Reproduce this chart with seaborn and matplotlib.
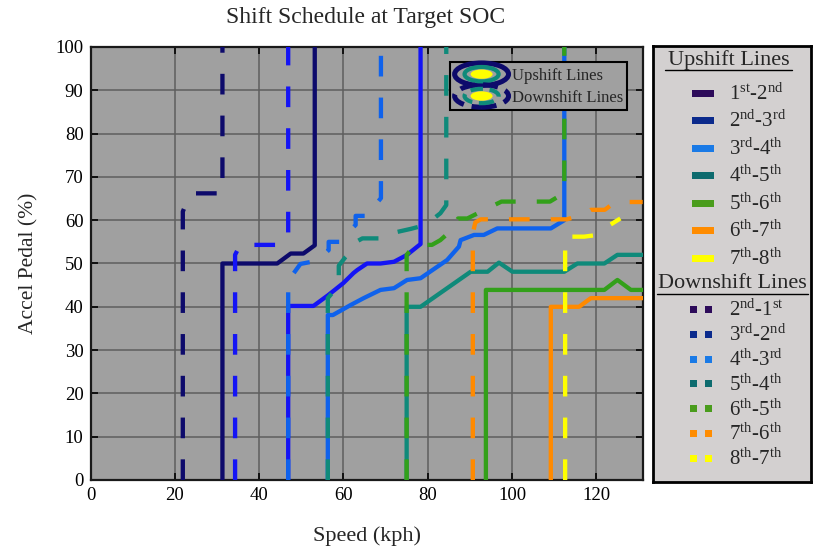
import numpy as np
import pandas as pd
import matplotlib
matplotlib.use("Agg")
import matplotlib.pyplot as plt
import seaborn as sns
from matplotlib.legend_handler import HandlerBase
from matplotlib.patches import Ellipse, Rectangle
from matplotlib.lines import Line2D

# ---------------- data (speed kph, accel pedal %) ----------------
up_12_x = [31.3, 31.3, 44.3, 47.5, 50.5, 53.2, 53.2]
up_12_y = [0, 50, 50, 52.3, 52.3, 54.2, 100]
up_23_x = [46.9, 46.9, 52.9, 56.4, 60.0, 62.4, 63.3, 65.6, 68.8, 72.0, 75.1, 78.3, 78.3]
up_23_y = [0, 40.2, 40.2, 42.7, 45.5, 47.8, 48.5, 50, 50, 50.4, 52, 54.5, 100]
up_34_x = [56.3, 56.3, 57.5, 61.7, 64.8, 68.8, 72.0, 75.1, 78.3, 84.6, 87.4, 87.8, 91.0, 93.3, 96.5, 109.2, 112.4, 112.4]
up_34_y = [0, 38.1, 38.1, 40.4, 42, 43.9, 44.3, 46.2, 46.6, 50.8, 53.9, 55.4, 56.6, 56.6, 58.1, 58.1, 60, 100]
up_45_x = [75.0, 75.0, 78.3, 90.2, 94.2, 96.9, 100.1, 112.4, 115.5, 121.9, 125.0, 131.0]
up_45_y = [0, 40, 40, 48.1, 48.1, 50.2, 48.1, 48.1, 50, 50, 52, 52]
up_56_x = [93.8, 93.8, 121.9, 125.0, 128.2, 131.0]
up_56_y = [0, 43.9, 43.9, 46.2, 43.9, 43.9]
up_67_x = [109.2, 109.2, 115.9, 118.7, 131.0]
up_67_y = [0, 40, 40, 42, 42]

dn_21_x = [21.9, 21.9, 23.2, 24.5, 31.3, 31.3]
dn_21_y = [0, 62, 65, 66.2, 66.2, 100]
dn_32_x = [34.3, 34.3, 35.5, 45.0, 46.9, 46.9]
dn_32_y = [0, 52, 54.3, 54.3, 56, 100]
dn_43_x = [46.9, 46.9, 49.8, 53.0, 54.5, 56.5, 56.5, 59.0, 60.9, 62.9, 62.9, 65.5, 67.2, 68.9, 68.9]
dn_43_y = [0, 46, 49.9, 50.5, 51.2, 53.1, 55, 55, 57, 58.9, 61, 61, 63.1, 65.1, 100]
dn_54_x = [56.3, 56.3, 58.9, 58.9, 60.5, 62.1, 63.0, 64.5, 70.4, 72.8, 76.0, 79.5, 83.0, 84.4, 84.4]
dn_54_y = [0, 42, 45, 49.5, 51.5, 53.2, 55, 55.8, 55.8, 57.3, 58, 58.9, 61.6, 63.5, 100]
dn_65_x = [75.0, 75.0, 77.0, 81.0, 83.0, 86.0, 87.2, 89.4, 93.5, 97.5, 109.0, 112.4, 112.4]
dn_65_y = [0, 52, 54.3, 54.3, 55.4, 58, 60.4, 60.4, 62.4, 64.3, 64.3, 66.3, 100]
dn_76_x = [90.7, 90.7, 91.3, 92.6, 113.0, 116.7, 118.7, 122.0, 124.5, 131.0]
dn_76_y = [0, 57, 59.5, 60.2, 60.2, 61.2, 62.4, 62.4, 64.2, 64.2]
dn_87_x = [112.6, 112.6, 117.1, 119.5, 121.9, 125.7]
dn_87_y = [0, 56.2, 56.2, 56.5, 58.1, 60.4]

up_labels = ["1$^{\\mathrm{st}}$-2$^{\\mathrm{nd}}$", "2$^{\\mathrm{nd}}$-3$^{\\mathrm{rd}}$",
             "3$^{\\mathrm{rd}}$-4$^{\\mathrm{th}}$", "4$^{\\mathrm{th}}$-5$^{\\mathrm{th}}$",
             "5$^{\\mathrm{th}}$-6$^{\\mathrm{th}}$", "6$^{\\mathrm{th}}$-7$^{\\mathrm{th}}$",
             "7$^{\\mathrm{th}}$-8$^{\\mathrm{th}}$"]
dn_labels = ["2$^{\\mathrm{nd}}$-1$^{\\mathrm{st}}$", "3$^{\\mathrm{rd}}$-2$^{\\mathrm{nd}}$",
             "4$^{\\mathrm{th}}$-3$^{\\mathrm{rd}}$", "5$^{\\mathrm{th}}$-4$^{\\mathrm{th}}$",
             "6$^{\\mathrm{th}}$-5$^{\\mathrm{th}}$", "7$^{\\mathrm{th}}$-6$^{\\mathrm{th}}$",
             "8$^{\\mathrm{th}}$-7$^{\\mathrm{th}}$"]

line_colors = ["#0d0a6b", "#1414f5", "#0f62ec", "#0f8a7a", "#33a01a", "#ff8a00", "#ffff00"]
legend_colors = ["#2d0b5a", "#0b2a8c", "#1a7ae6", "#0d6b6e", "#4a9c1c", "#ff8c00", "#ffff00"]

x_ticks = [0, 20, 40, 60, 80, 100, 120]
y_ticks = [0, 10, 20, 30, 40, 50, 60, 70, 80, 90, 100]

# ---------------- style ----------------
sns.set_style("ticks")
plt.rcParams["font.family"] = ["Liberation Serif", "DejaVu Serif"]
plt.rcParams["mathtext.fontset"] = "custom"
plt.rcParams["mathtext.rm"] = "Liberation Serif"
plt.rcParams["mathtext.it"] = "Liberation Serif:italic"
plt.rcParams["mathtext.bf"] = "Liberation Serif:bold"

W, H = 813, 553
fig = plt.figure(figsize=(W / 100, H / 100), dpi=100)
fig.patch.set_facecolor("white")
ax = fig.add_axes([90.5 / W, 1 - 480 / H, (642.7 - 90.5) / W, (480 - 47) / H])
ax.set_facecolor("#a0a0a0")

up_lines = [(up_12_x, up_12_y), (up_23_x, up_23_y), (up_34_x, up_34_y), (up_45_x, up_45_y),
            (up_56_x, up_56_y), (up_67_x, up_67_y)]
dn_lines = [(dn_21_x, dn_21_y), (dn_32_x, dn_32_y), (dn_43_x, dn_43_y), (dn_54_x, dn_54_y),
            (dn_65_x, dn_65_y), (dn_76_x, dn_76_y), (dn_87_x, dn_87_y)]

for i, (xs, ys) in enumerate(up_lines):
    df = pd.DataFrame({"speed": xs, "pedal": ys})
    sns.lineplot(data=df, x="speed", y="pedal", ax=ax, sort=False, estimator=None,
                 color=line_colors[i], lw=3.1, legend=False, zorder=3)
for i, (xs, ys) in enumerate(dn_lines):
    df = pd.DataFrame({"speed": xs, "pedal": ys})
    sns.lineplot(data=df, x="speed", y="pedal", ax=ax, sort=False, estimator=None,
                 color=line_colors[i], lw=3.1, legend=False, zorder=4,
                 linestyle=(0, (4.8, 4.9)), dash_capstyle="butt")

ax.set_xlim(0, 131)
ax.set_ylim(0, 100)
ax.set_xticks(x_ticks)
ax.set_yticks(y_ticks)
ax.grid(True, color="#5e5e5e", lw=1.1, zorder=0)
ax.set_axisbelow(True)
ax.tick_params(direction="in", length=5, width=1.2, colors="black", labelsize=13.5,
               top=True, right=True, pad=5)
for s in ax.spines.values():
    s.set_color("#1a1a1a")
    s.set_linewidth(1.6)
ax.set_xlabel("Speed (kph)", fontsize=16, labelpad=16)
ax.set_ylabel("Accel Pedal (%)", fontsize=15.5, labelpad=12)
fig.text(366 / W, 1 - 18 / H, "Shift Schedule at Target SOC", ha="center", va="center",
         fontsize=17)


# ---------------- inner legend with ellipse icons ----------------
class EllipseHandler(HandlerBase):
    def __init__(self, dashed):
        super().__init__()
        self.dashed = dashed

    def create_artists(self, legend, orig_handle, xdescent, ydescent, width, height,
                       fontsize, trans):
        cx = width / 2 - xdescent
        cy = height / 2 - ydescent
        ls = (0, (3, 1.6)) if self.dashed else "-"
        e1 = Ellipse((cx, cy), width * 0.98, height * 1.4, fc="none", ec="#0d0a6b",
                     lw=3.6, ls=ls, transform=trans)
        e2 = Ellipse((cx, cy), width * 0.62, height * 0.9, fc="none", ec="#0f8a7a",
                     lw=3.0, ls=ls, transform=trans)
        e3 = Ellipse((cx, cy), width * 0.40, height * 0.58, fc="#ffff00", ec="none",
                     transform=trans)
        return [e1, e2, e3]


h_up = Line2D([], [])
h_dn = Line2D([], [])
leg = ax.legend([h_up, h_dn], ["Upshift Lines", "Downshift Lines"],
                handler_map={h_up: EllipseHandler(False), h_dn: EllipseHandler(True)},
                loc="upper right", bbox_to_anchor=((627 - 90.5) / 552.2, (480 - 62) / 433),
                fontsize=12, frameon=True, facecolor="#a0a0a0", edgecolor="black",
                framealpha=1, fancybox=False, handlelength=3.3, handleheight=1.1,
                handletextpad=0.15, borderpad=0.25, labelspacing=0.25, borderaxespad=0)
leg.get_frame().set_linewidth(1.5)
leg.set_zorder(10)

# ---------------- right legend panel ----------------
pax = fig.add_axes([653 / W, 1 - 482 / H, (811 - 653) / W, (482 - 46) / H])
pax.set_xlim(653, 811)
pax.set_ylim(482, 46)
pax.set_facecolor("#d3d0d0")
pax.set_xticks([])
pax.set_yticks([])
for s in pax.spines.values():
    s.set_color("black")
    s.set_linewidth(2)

pax.text(728.5, 60, "Upshift Lines", ha="center", va="center", fontsize=16)
pax.plot([665, 792], [70, 70], color="black", lw=1)
for i, (lab, col) in enumerate(zip(up_labels, legend_colors)):
    yc = 93.3 + 27.5 * i
    pax.add_patch(Rectangle((692, yc - 3.5), 22, 7, fc=col, ec="none"))
    pax.text(729, yc + 6.5, lab, ha="left", va="baseline", fontsize=15)

pax.text(732.5, 284, "Downshift Lines", ha="center", va="center", fontsize=16)
pax.plot([657, 808], [294.5, 294.5], color="black", lw=1)
for i, (lab, col) in enumerate(zip(dn_labels, legend_colors)):
    yc = 309.3 + 24.9 * i
    pax.add_patch(Rectangle((690, yc - 3.5), 7, 7, fc=col, ec="none"))
    pax.add_patch(Rectangle((705, yc - 3.5), 7, 7, fc=col, ec="none"))
    pax.text(729, yc + 6.5, lab, ha="left", va="baseline", fontsize=15)

fig.savefig("out.png", dpi=100)
